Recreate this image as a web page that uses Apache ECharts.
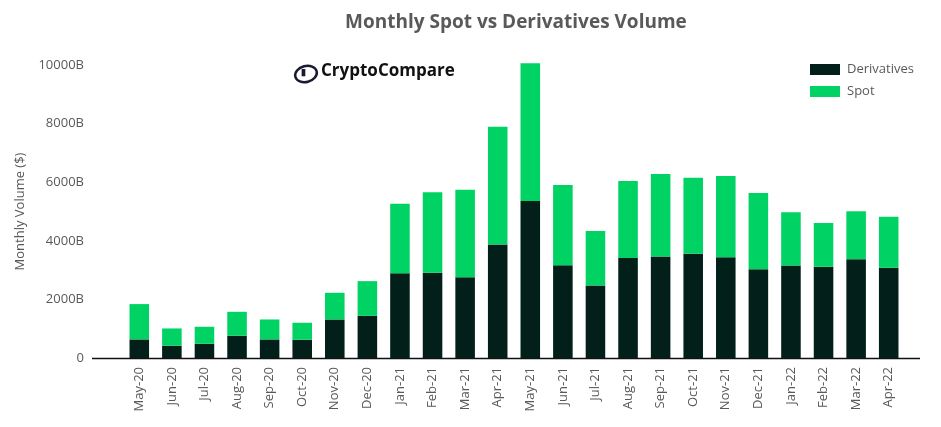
<!DOCTYPE html>
<html>
<head>
<meta charset="utf-8">
<script src="https://cdn.jsdelivr.net/npm/echarts@6/dist/echarts.min.js"></script>
<style>
  html, body { margin: 0; padding: 0; background: #fff; }
  #chart { width: 941px; height: 427px; }
</style>
</head>
<body>
<div id="chart"></div>
<script>
// months shown on the x axis
var months = ['May-20','Jun-20','Jul-20','Aug-20','Sep-20','Oct-20','Nov-20','Dec-20',
  'Jan-21','Feb-21','Mar-21','Apr-21','May-21','Jun-21','Jul-21','Aug-21','Sep-21','Oct-21',
  'Nov-21','Dec-21','Jan-22','Feb-22','Mar-22','Apr-22'];

// volumes in billions of USD
var derivatives = [634, 419, 487, 760, 634, 624, 1315, 1441,
  2896, 2906, 2760, 3871, 5359, 3169, 2474, 3417, 3462, 3554,
  3441, 3032, 3155, 3111, 3373, 3077];
var spot = [1206, 590, 579, 817, 681, 579, 910, 1182,
  2372, 2750, 2985, 4020, 4702, 2736, 1863, 2624, 2817, 2599,
  2770, 2600, 1819, 1499, 1635, 1748];

var yTicks = [0, 2000, 4000, 6000, 8000, 10000];

var font = 'Open Sans';
var grey = '#595959';

var chart = echarts.init(document.getElementById('chart'));
chart.setOption({
  animation: false,
  textStyle: { fontFamily: font },
  title: {
    text: 'Monthly Spot vs Derivatives Volume',
    left: 340, top: 8,
    textStyle: { fontSize: 19, fontWeight: 'bold', color: grey, fontFamily: font }
  },
  legend: {
    data: ['Derivatives', 'Spot'],
    orient: 'vertical',
    left: 805, top: 58,
    itemWidth: 30, itemHeight: 11, itemGap: 9,
    icon: 'rect',
    textStyle: { color: grey, fontSize: 13, fontFamily: font, padding: [0, 0, 0, 2] }
  },
  grid: { left: 123, right: 36, top: 65, bottom: 69 },
  xAxis: {
    type: 'category',
    data: months,
    axisLine: { show: false },
    axisTick: { show: false },
    axisLabel: { rotate: 90, color: grey, fontSize: 13, margin: 9, interval: 0 }
  },
  yAxis: {
    type: 'value',
    min: yTicks[0], max: yTicks[yTicks.length - 1], interval: 2000,
    name: 'Monthly Volume ($)',
    nameLocation: 'middle', nameGap: 96,
    nameTextStyle: { color: grey, fontSize: 13 },
    splitLine: { show: false },
    axisLine: { show: false },
    axisTick: { show: false },
    axisLabel: {
      color: grey, fontSize: 13, margin: 39,
      formatter: function (v) { return v === 0 ? '0' : v + 'B'; }
    }
  },
  series: [
    {
      name: 'Derivatives', type: 'bar', stack: 'vol',
      data: derivatives, barWidth: '60%', clip: false,
      itemStyle: { color: '#021f1a' }
    },
    {
      name: 'Spot', type: 'bar', stack: 'vol',
      data: spot, barWidth: '60%', clip: false,
      itemStyle: { color: '#00d364' }
    }
  ],
  graphic: [
    // baseline runs a bit wider than the category band
    { type: 'line', shape: { x1: 92, y1: 358.5, x2: 920, y2: 358.5 },
      style: { stroke: '#111', lineWidth: 1.5 } },
    // logo mark + word
    { type: 'ellipse', shape: { cx: 306, cy: 74, rx: 11, ry: 8 }, rotation: 0.25,
      originX: 306, originY: 74,
      style: { fill: 'none', stroke: '#1a1a2e', lineWidth: 2.5 } },
    { type: 'text', left: 301, top: 68,
      style: { text: '▮', fill: '#1a1a2e', font: 'bold 9px ' + font } },
    { type: 'text', left: 321, top: 63,
      style: { text: 'CryptoCompare', fill: '#111', font: 'bold 17px ' + font } }
  ]
});
</script>
</body>
</html>
